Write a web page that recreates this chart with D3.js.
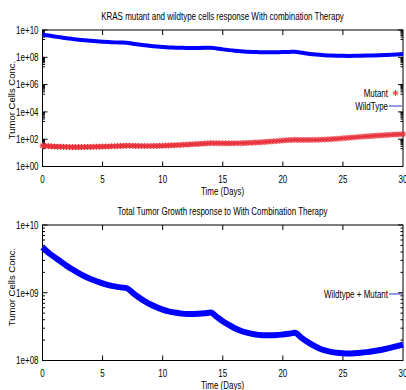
<!DOCTYPE html>
<html>
<head>
<meta charset="utf-8">
<script src="https://cdn.jsdelivr.net/npm/d3@7"></script>
<style>
  body { margin: 0; background: #fff; }
  svg { display: block; }
  text { font-family: "Liberation Sans", Arial, sans-serif; fill: #000; }
</style>
</head>
<body>
<div id="chart"></div>
<script>
// wildtype / total sampled every 0.5 day, mutant every 0.25 day
var wildStep = 0.5;
var mutantStep = 0.25;

var wildtype = [
  4.7e9, 3.9e9, 3.35e9, 2.9e9, 2.5e9, 2.2e9, 1.95e9, 1.75e9, 1.6e9, 1.48e9,
  1.38e9, 1.3e9, 1.24e9, 1.2e9, 1.17e9,
  1.0e9, 8.6e8, 7.5e8, 6.7e8, 6.1e8, 5.65e8, 5.3e8, 5.1e8, 4.95e8, 4.85e8,
  4.85e8, 4.9e8, 4.98e8, 5.1e8,
  4.4e8, 3.8e8, 3.35e8, 3.0e8, 2.75e8, 2.58e8, 2.46e8, 2.39e8, 2.35e8, 2.35e8,
  2.37e8, 2.42e8, 2.48e8, 2.56e8,
  2.2e8, 1.9e8, 1.68e8, 1.52e8, 1.41e8, 1.34e8, 1.3e8, 1.28e8, 1.27e8, 1.28e8,
  1.3e8, 1.33e8, 1.37e8, 1.42e8, 1.48e8, 1.55e8, 1.63e8, 1.72e8
];

var mutant = [
  33, 32, 31, 30, 29, 28.5, 28, 27.5, 27, 26.8, 26.6, 26.5, 26.5, 26.6, 26.8, 27,
  27.3, 27.6, 28, 28.4, 28.8, 29.3, 29.8, 30.3, 30.9, 31.5, 32.1, 32.8, 33.5,
  33.2, 32.8, 32.4, 32.1, 31.9, 31.8, 31.8, 31.9, 32.1, 32.4, 32.8, 33.3, 33.9,
  34.6, 35.4, 36.3, 37.2, 38.2, 39.3, 40.4, 41.6, 42.8, 44.1, 45.4, 46.8, 48.2,
  49.7, 52,
  51.5, 51, 50.6, 50.3, 50.1, 50, 50, 50.2, 50.6, 51.2, 52, 53, 54.2, 55.6, 57.2,
  59, 61, 63.2, 65.6, 68.2, 71, 74, 77.2, 80.5, 83.5, 86, 88, 89.5,
  89, 88.6, 88.4, 88.4, 88.7, 89.3, 90.2, 91.5, 93.2, 95.3, 97.8, 101, 104.5,
  108.5, 113, 118, 123, 128, 133.5, 139, 145, 151, 157, 163, 169, 175, 181, 187,
  193, 199, 205, 211, 217, 223, 230, 237
];

var xTicks = [0, 5, 10, 15, 20, 25, 30];
var topYTicks = [1e0, 1e2, 1e4, 1e6, 1e8, 1e10];
var bottomYTicks = [1e8, 1e9, 1e10];

var width = 406, height = 390;
var squeeze = 0.76; // gnuplot's font renders narrow

var svg = d3.select("#chart").append("svg")
  .attr("width", width)
  .attr("height", height);

var wildData = wildtype.map(function(v, i) { return { t: i * wildStep, v: v }; });
var mutantData = mutant.map(function(v, i) { return { t: i * mutantStep, v: v }; });
// total = wildtype + mutant at the same day
var totalData = wildData.map(function(d, i) {
  var m = mutant[i * 2] || 0;
  return { t: d.t, v: d.v + m };
});

function fmtExp(v) {
  var e = Math.round(Math.log10(v));
  return "1e+" + (e < 10 ? "0" + e : e);
}

function narrowText(g, x, y, str, anchor) {
  return g.append("text")
    .attr("transform", "translate(" + x + "," + y + ") scale(" + squeeze + ",1)")
    .attr("text-anchor", anchor || "middle")
    .style("font-size", "10.5px")
    .text(str);
}

function drawStar(sel, cx, cy) {
  var r = 3, s = 2.2;
  sel.append("line").attr("x1", cx - r).attr("x2", cx + r).attr("y1", cy).attr("y2", cy);
  sel.append("line").attr("x1", cx).attr("x2", cx).attr("y1", cy - r).attr("y2", cy + r);
  sel.append("line").attr("x1", cx - s).attr("x2", cx + s).attr("y1", cy - s).attr("y2", cy + s);
  sel.append("line").attr("x1", cx - s).attr("x2", cx + s).attr("y1", cy + s).attr("y2", cy - s);
}

function drawPanel(opts) {
  var x = d3.scaleLinear().domain([0, 30]).range([42.5, 403]);
  var y = d3.scaleLog().domain(opts.yDomain).range([opts.bottom, opts.top]);
  var g = svg.append("g");

  // title
  narrowText(g, 222.5, opts.top - 10, opts.title);

  // border
  g.append("rect")
    .attr("x", x(0)).attr("y", opts.top)
    .attr("width", x(30) - x(0)).attr("height", opts.bottom - opts.top)
    .attr("fill", "none").attr("stroke", "#000").attr("stroke-width", 1);

  // x ticks (bottom + mirrored top)
  xTicks.forEach(function(t) {
    if (t > 0 && t < 30) {
      g.append("line").attr("x1", x(t)).attr("x2", x(t))
        .attr("y1", opts.bottom).attr("y2", opts.bottom - 5).attr("stroke", "#000");
      g.append("line").attr("x1", x(t)).attr("x2", x(t))
        .attr("y1", opts.top).attr("y2", opts.top + 5).attr("stroke", "#000");
    }
    narrowText(g, x(t), opts.bottom + 16, t);
  });

  // y major ticks
  opts.yTicks.forEach(function(v) {
    var yy = y(v);
    g.append("line").attr("x1", x(0)).attr("x2", x(0) + 5)
      .attr("y1", yy).attr("y2", yy).attr("stroke", "#000");
    g.append("line").attr("x1", x(30)).attr("x2", x(30) - 5)
      .attr("y1", yy).attr("y2", yy).attr("stroke", "#000");
    narrowText(g, 38.5, yy + 3.8, fmtExp(v), "end");
  });

  // y minor ticks
  opts.minor.forEach(function(v) {
    var yy = y(v);
    g.append("line").attr("x1", x(0)).attr("x2", x(0) + 2.5)
      .attr("y1", yy).attr("y2", yy).attr("stroke", "#000");
    g.append("line").attr("x1", x(30)).attr("x2", x(30) - 2.5)
      .attr("y1", yy).attr("y2", yy).attr("stroke", "#000");
  });

  // axis labels
  narrowText(g, 222.5, opts.bottom + 28.5, "Time (Days)");

  g.append("text")
    .attr("transform", "translate(15," + opts.labelY + ") rotate(-90)")
    .attr("text-anchor", "middle")
    .style("font-size", "9.5px")
    .text("Tumor Cells Conc.");

  return { g: g, x: x, y: y };
}

// minor ticks: 2..9 x 10^odd for top, 2..9 x 10^8, 10^9 for bottom
var topMinor = [];
[1, 3, 5, 7, 9].forEach(function(e) {
  for (var k = 2; k <= 9; k++) topMinor.push(k * Math.pow(10, e));
});
var bottomMinor = [];
[8, 9].forEach(function(e) {
  for (var k = 2; k <= 9; k++) bottomMinor.push(k * Math.pow(10, e));
});

// ---- top panel
var p1 = drawPanel({
  title: "KRAS mutant and wildtype cells response With combination Therapy",
  top: 30, bottom: 166.5,
  yDomain: [1, 1e10], yTicks: topYTicks, minor: topMinor, labelY: 100
});

var line1 = d3.line()
  .x(function(d) { return p1.x(d.t); })
  .y(function(d) { return p1.y(d.v); })
  .curve(d3.curveMonotoneX);

p1.g.append("path")
  .datum(wildData)
  .attr("fill", "none")
  .attr("stroke", "#0000ff")
  .attr("stroke-width", 4)
  .attr("stroke-linejoin", "round")
  .attr("d", line1);

var marks = p1.g.append("g").attr("stroke", "#e8303a").attr("stroke-width", 1.1);
mutantData.forEach(function(d) {
  drawStar(marks, p1.x(d.t), p1.y(d.v));
});

// legend top
narrowText(p1.g, 388, 96.5, "Mutant", "end");
drawStar(p1.g.append("g").attr("stroke", "#e8303a"), 395.5, 93);
narrowText(p1.g, 388, 109.5, "WildType", "end");
p1.g.append("line").attr("x1", 389).attr("x2", 402)
  .attr("y1", 106).attr("y2", 106).attr("stroke", "#3030d0").attr("stroke-width", 1);

// ---- bottom panel
var p2 = drawPanel({
  title: "Total Tumor Growth response to With Combination Therapy",
  top: 225, bottom: 360.5,
  yDomain: [1e8, 1e10], yTicks: bottomYTicks, minor: bottomMinor, labelY: 287
});

var line2 = d3.line()
  .x(function(d) { return p2.x(d.t); })
  .y(function(d) { return p2.y(d.v); })
  .curve(d3.curveMonotoneX);

p2.g.append("path")
  .datum(totalData)
  .attr("fill", "none")
  .attr("stroke", "#0000ff")
  .attr("stroke-width", 6)
  .attr("stroke-linejoin", "round")
  .attr("d", line2);

narrowText(p2.g, 388, 297.5, "Wildtype + Mutant", "end");
p2.g.append("line").attr("x1", 389).attr("x2", 402)
  .attr("y1", 294).attr("y2", 294).attr("stroke", "#3030d0").attr("stroke-width", 1);
</script>
</body>
</html>
